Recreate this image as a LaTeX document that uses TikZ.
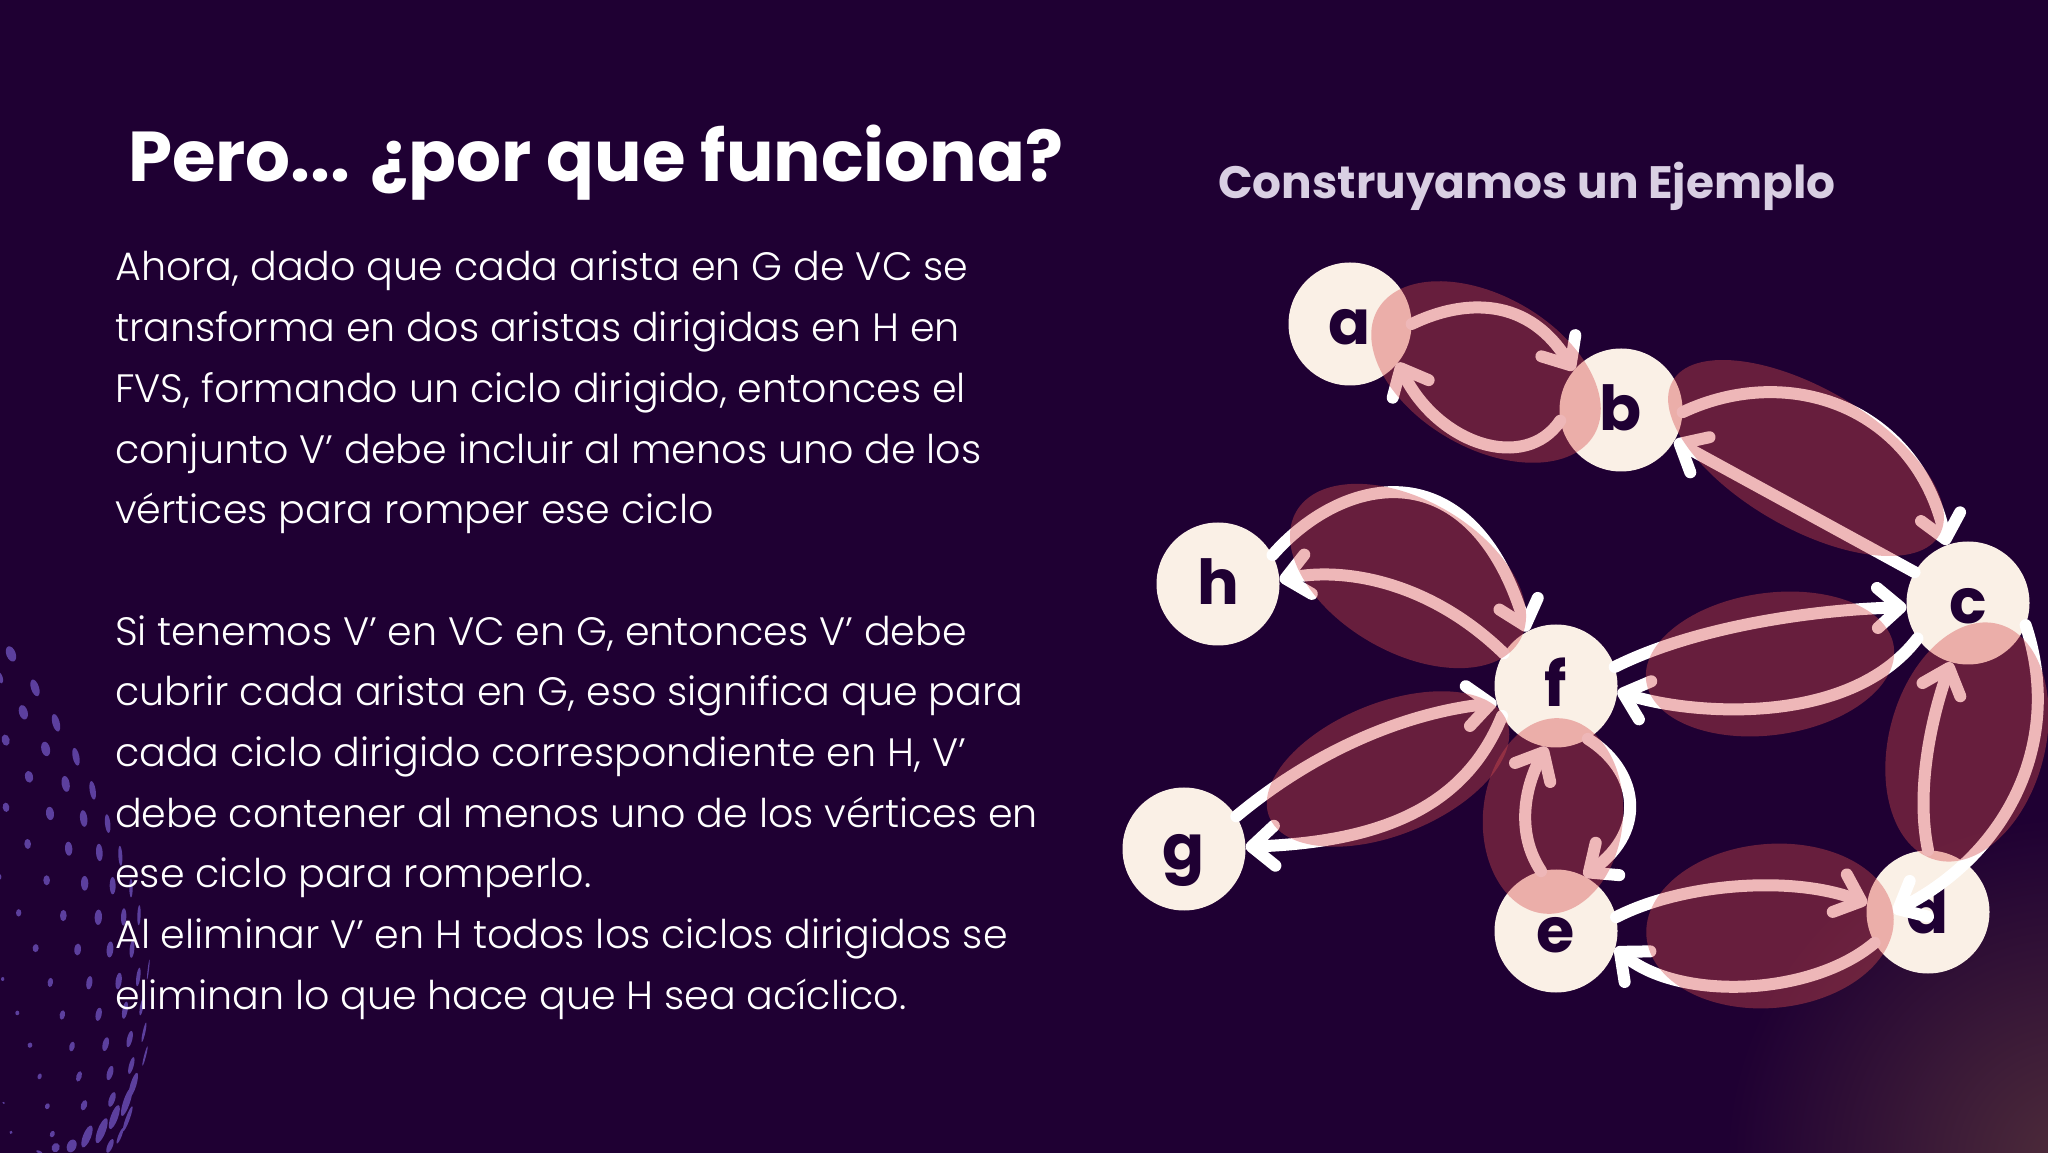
\documentclass[tikz,border=0pt]{standalone}
\usepackage{fontspec}
\setmainfont{Poppins}[UprightFont={* Light},BoldFont={* Bold}]
\usetikzlibrary{arrows.meta,shapes.geometric}
\definecolor{fondo}{HTML}{1F0033}
\definecolor{crema}{HTML}{FAF0E6}
\definecolor{mancha}{HTML}{D54C4E}
\definecolor{puntos}{HTML}{5C3F9E}
\definecolor{lila}{HTML}{D9CFE3}
\definecolor{brillo}{HTML}{4E2C3A}
\begin{document}
\begin{tikzpicture}[x=1pt,y=1pt,
	vertex/.style={circle,fill=crema,text=fondo,minimum size=123pt,inner sep=0pt,text height=50pt,text depth=8pt,font=\fontsize{62}{62}\selectfont\bfseries},
	edge/.style={white,line width=12pt,line cap=round,-{Straight Barb[length=23pt,width=40pt,line width=12pt,round]}},
	blob/.style={ellipse,fill=mancha,fill opacity=.4,inner sep=0pt}]
	\useasboundingbox (0,0) rectangle (2048,1152);
	\clip (-3,-3) rectangle (2051,1155);
	\fill[fondo] (-3,-3) rectangle (2051,1155);
	\shade[inner color=brillo,outer color=fondo] (2070,-10) circle (345);
	\foreach \zx/\zy/\zw/\zh in {33/100/14/24,0/170/8/18,105/200/12/26,70/272/13/22,168/303/11/27,17/354/12/17,137/380/13/22,228/403/10/27,87/462/12/18,197/483/12/24,278/502/9/28,18/552/10/14,150/570/12/20,251/585/11/25,323/600/8/28,83/660/10/15,206/674/11/21,298/685/10/26,361/695/6/30,0/757/4/8,140/767/10/15,254/776/11/22,338/783/9/26,393/790/5/28,56/863/8/11,190/871/10/17,295/876/11/23,371/875/8/26,417/870/5/30,107/967/9/12,233/971/10/18,330/971/10/24,396/970/7/26,8/1058/5/6,151/1068/8/14,268/1069/9/20,356/1064/9/25,415/1052/6/28,445/1030/2/30,52/1158/6/7,187/1164/8/14,296/1162/9/20,375/1150/8/26,425/1140/5/26,90/1253/7/8,216/1257/8/15,317/1250/9/21,389/1235/8/25,432/1215/4/30,119/1345/6/9,237/1345/8/16,330/1335/9/22,394/1313/7/26,435/1285/3/30,11/1423/4/3,142/1433/7/9,252/1430/9/16,336/1413/9/23,400/1370/9/38,33/1510/5/5,157/1515/7/10,261/1522/12/35,305/1505/12/40,343/1465/11/38,380/1420/10/45,383/1470/6/40,118/1568/10/4,167/1555/12/14,215/1550/14/20,330/1550/8/22,360/1520/5/25}
		\fill[puntos,shift={({\zx/3},{532-\zy/2.947})},rotate={90-(\zy-800)*0.03}] (0,0) ellipse ({\zh/3} and {\zw/3});
	\node[white,anchor=base west,inner sep=0pt,font=\fontsize{70.6}{70.6}\selectfont\bfseries] (titulo) at (128,970) {Pero... ¿por que funciona?};
	\node[lila,anchor=base west,inner sep=0pt,font=\fontsize{45.4}{45.4}\selectfont\bfseries] (subtitulo) at (1218,953) {Construyamos un Ejemplo};
	\node[white,anchor=north west,inner sep=0pt,align=left,font=\fontsize{39.6}{60.7}\selectfont] (cuerpo) at (115,901) {Ahora, dado que cada arista en G de VC se\\
		transforma en dos aristas dirigidas en H en\\
		FVS, formando un ciclo dirigido, entonces el\\
		conjunto V’ debe incluir al menos uno de los\\
		vértices para romper ese ciclo\\
		\strut\\
		Si tenemos V’ en VC en G, entonces V’ debe\\
		cubrir cada arista en G, eso significa que para\\
		cada ciclo dirigido correspondiente en H, V’\\
		debe contener al menos uno de los vértices en\\
		ese ciclo para romperlo.\\
		Al eliminar V’ en H todos los ciclos dirigidos se\\
		eliminan lo que hace que H sea acíclico.};
	\node[vertex] (a) at (1350,828) {a};
	\node[vertex] (b) at (1621,742) {b};
	\node[vertex] (c) at (1968,549) {c};
	\node[vertex] (d) at (1928,240) {d};
	\node[vertex] (e) at (1556,221) {e};
	\node[vertex] (f) at (1556,466) {f};
	\node[vertex] (g) at (1184,303) {g};
	\node[vertex] (h) at (1218,568) {h};
	\coordinate (dpunta) at (1893,240);
	\draw[edge] (a.0) .. controls +(43,21) and +(-50,80) .. (b.140);
	\draw[edge] (b.190) .. controls +(-35,-52) and +(40,-82) .. (a.321);
	\draw[edge] (b.358) .. controls +(106,50) and +(-31,138) .. (c.110);
	\draw[edge] (c.150) -- (b.-30);
	\draw[edge] (f.18) .. controls +(84,42) and +(-86,-2) .. (c.184);
	\draw[edge] (c.215) .. controls +(-69,-90) and +(71,-23) .. (f.-5);
	\draw[edge] (c.-21) .. controls +(38,-114) and +(117,60) .. (dpunta);
	\draw[edge] (d.90) .. controls +(-12,58) and +(-21,-60) .. (c.254);
	\draw[edge] (e.13) .. controls +(64,33) and +(-77,29) .. (d.172);
	\draw[edge] (d.210) .. controls +(-64,-54) and +(63,-53) .. (e.-16);
	\draw[edge] (e.104) .. controls +(-26,39) and +(-21,-39) .. (f.261);
	\draw[edge] (f.-59) .. controls +(48,-30) and +(66,48) .. (e.63);
	\draw[edge] (f.148) .. controls +(-72,70) and +(68,13) .. (h.4);
	\draw[edge] (h.28) .. controls +(73,83) and +(-55,181) .. (f.118);
	\draw[edge] (g.32) .. controls +(84,70) and +(-85,-9) .. (f.196);
	\draw[edge] (f.209) .. controls +(-38,-94) and +(131,5) .. (g.2);
	\node[blob,minimum width=250pt,minimum height=152pt,rotate=-30] (ab) at (1486,780) {};
	\node[blob,minimum width=308pt,minimum height=140pt,rotate=-30] (bc) at (1806,694) {};
	\node[blob,minimum width=258pt,minimum height=152pt,rotate=-30] (hf) at (1408,576) {};
	\node[blob,minimum width=256pt,minimum height=132pt,rotate=22] (gf) at (1388,383) {};
	\node[blob,minimum width=196pt,minimum height=140pt,rotate=85] (fe) at (1553,336) {};
	\node[blob,minimum width=250pt,minimum height=142pt,rotate=8] (fc) at (1770,488) {};
	\node[blob,minimum width=248pt,minimum height=164pt,rotate=5] (ed) at (1770,226) {};
	\node[blob,minimum width=244pt,minimum height=156pt,rotate=75] (cd) at (1967,410) {};
\end{tikzpicture}
\end{document}
